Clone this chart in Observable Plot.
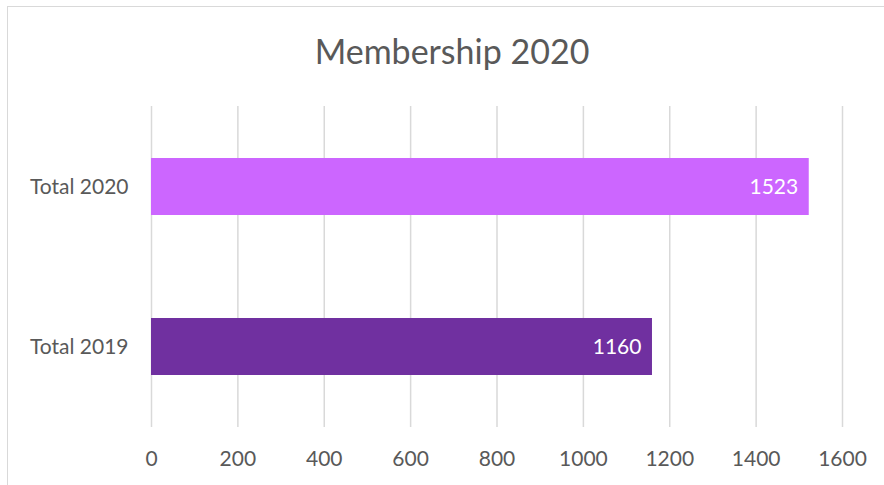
<!DOCTYPE html>
<html><head><meta charset="utf-8">
<script src="https://cdn.jsdelivr.net/npm/d3@7"></script>
<script src="https://cdn.jsdelivr.net/npm/@observablehq/plot@0.6"></script>
<style>
html,body{margin:0;padding:0;background:#fff;overflow:hidden;}
#wrap{position:relative;width:884px;height:485px;}
#border{position:absolute;left:7px;top:6px;width:900px;height:500px;border:1.5px solid #d9d9d9;box-sizing:border-box;}
#chart{position:absolute;left:0;top:0;}
</style></head>
<body><div id="wrap"><div id="border"></div><div id="chart"></div></div>
<script>
const categories = ["Total 2020", "Total 2019"];
const values = [1523, 1160];
const colors = ["#CC66FF", "#7030A0"];
const xTicks = [0, 200, 400, 600, 800, 1000, 1200, 1400, 1600];
const title = "Membership 2020";

const data = categories.map((c, i) => ({cat: c, value: values[i], color: colors[i]}));
const font = "Lato, 'Open Sans', sans-serif";

const chart = Plot.plot({
  width: 884, height: 485,
  marginLeft: 151, marginRight: 42, marginTop: 106, marginBottom: 58,
  style: {fontFamily: font, background: "transparent", color: "#595959"},
  x: {domain: [0, 1600], ticks: xTicks, label: null},
  y: {domain: categories, paddingInner: 0.645, paddingOuter: 0.3225, label: null},
  marks: [
    Plot.ruleX(xTicks, {stroke: "#d9d9d9", strokeWidth: 1.5}),
    Plot.barX(data, {x: "value", y: "cat", fill: "color"}),
    Plot.text(data, {x: "value", y: "cat", text: d => String(d.value), textAnchor: "end", dx: -11, fill: "#fff", fontSize: 21}),
    Plot.axisX({ticks: xTicks, tickSize: 0, tickPadding: 24, fontSize: 21, fill: "#595959", label: null, tickFormat: d => String(d)}),
    Plot.axisY({tickSize: 0, tickPadding: 23, fontSize: 21, fill: "#595959", label: null}),
    Plot.text([title], {frameAnchor: "top", dy: -67, dx: -45, fontSize: 34, fill: "#595959", text: d => d})
  ]
});
document.getElementById("chart").appendChild(chart);
</script></body></html>
